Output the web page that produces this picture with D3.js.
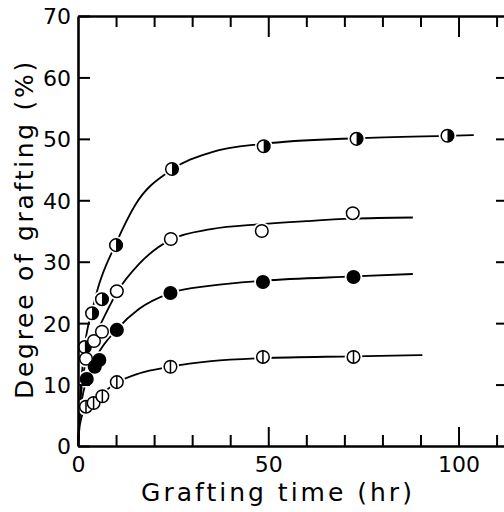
<!DOCTYPE html>
<html>
<head>
<meta charset="utf-8">
<script src="https://cdn.jsdelivr.net/npm/d3@7"></script>
<style>
  body { margin: 0; background: #fff; }
  svg { display: block; font-family: "DejaVu Sans", sans-serif; }
</style>
</head>
<body>
<script>
// Data
const xTicks = [0, 10, 20, 30, 40, 50, 60, 70, 80, 90, 100, 110]
const xLabels = [0, 50, 100]
const yTicks = [0, 10, 20, 30, 40, 50, 60, 70]

// half-filled circles
const halfX = [1.8, 3.7, 6.3, 10, 24.7, 48.8, 73.2, 97.1]
const halfY = [16.1, 21.6, 23.9, 32.7, 45.1, 48.8, 50.0, 50.5]
// open circles
const openX = [2.1, 4.2, 6.3, 10.2, 24.4, 48.3, 72.2]
const openY = [14.2, 17.1, 18.6, 25.2, 33.7, 35.0, 37.9]
// filled circles
const fillX = [2.3, 4.4, 5.6, 10.2, 24.3, 48.6, 72.4]
const fillY = [10.9, 12.9, 14.0, 18.9, 24.9, 26.7, 27.5]
// circles with a vertical bar
const barX = [2.1, 4.1, 6.4, 10.2, 24.3, 48.6, 72.4]
const barY = [6.4, 7.0, 8.1, 10.4, 12.9, 14.5, 14.5]

// fitted curves, as drawn in the figure
const halfCurveX = [0, 0.5, 1.8, 3.7, 5, 10, 15, 24.7, 35, 48.8, 73, 97, 104]
const halfCurveY = [0, 7, 16.3, 22, 25.2, 33, 39.2, 45, 47.8, 49.2, 50.1, 50.5, 50.6]
const openCurveX = [0, 0.5, 2.1, 4.2, 6.3, 10.2, 16, 24.4, 35, 48, 60, 72, 88]
const openCurveY = [0, 6, 14, 17.6, 20.3, 25, 29.6, 33.6, 35.3, 36.1, 36.6, 37.0, 37.2]
const fillCurveX = [0, 0.5, 2.3, 5, 10.2, 16, 24.3, 35, 48.6, 72.4, 88]
const fillCurveY = [0, 5, 10.9, 14.7, 19, 22.3, 24.9, 26.1, 26.9, 27.6, 28.0]
const barCurveX = [0, 0.5, 2.1, 4.1, 6.4, 10.2, 16, 24.3, 35, 48.6, 72.4, 90.5]
const barCurveY = [0, 3.5, 6.4, 7.5, 8.6, 10.3, 11.8, 12.9, 13.8, 14.3, 14.6, 14.8]

const W = 504, H = 512
const plot = { left: 78, right: 508, top: 16, bottom: 446 }
const r = 6.3

const svg = d3.select("body").append("svg")
  .attr("width", W)
  .attr("height", H)

const x = d3.scaleLinear().domain([0, 113]).range([plot.left, plot.right])
const y = d3.scaleLinear().domain([0, 70]).range([plot.bottom, plot.top])

const zip = (a, b) => a.map((v, i) => [v, b[i]])

// Curves
const line = d3.line()
  .x(d => x(d[0]))
  .y(d => y(d[1]))
  .curve(d3.curveMonotoneX)

const curves = [
  zip(halfCurveX, halfCurveY),
  zip(openCurveX, openCurveY),
  zip(fillCurveX, fillCurveY),
  zip(barCurveX, barCurveY)
]

svg.append("g")
  .selectAll("path")
  .data(curves)
  .enter()
  .append("path")
  .attr("d", line)
  .attr("fill", "none")
  .attr("stroke", "#000")
  .attr("stroke-width", 1.8)

// Markers
const allPts = [
  ...zip(halfX, halfY).map(p => ({ p, t: "half" })),
  ...zip(openX, openY).map(p => ({ p, t: "open" })),
  ...zip(fillX, fillY).map(p => ({ p, t: "fill" })),
  ...zip(barX, barY).map(p => ({ p, t: "bar" }))
]

// white halos break the lines around each marker
svg.append("g")
  .selectAll("circle")
  .data(allPts)
  .enter()
  .append("circle")
  .attr("cx", d => x(d.p[0]))
  .attr("cy", d => y(d.p[1]))
  .attr("r", r + 2.5)
  .attr("fill", "#fff")

const marks = svg.append("g")
  .selectAll("g")
  .data(allPts)
  .enter()
  .append("g")
  .attr("transform", d => `translate(${x(d.p[0])},${y(d.p[1])})`)

marks.append("circle")
  .attr("r", r)
  .attr("fill", d => d.t === "fill" ? "#000" : "#fff")
  .attr("stroke", "#000")
  .attr("stroke-width", 1.5)

marks.filter(d => d.t === "half")
  .append("path")
  .attr("d", `M0,${-r}A${r},${r} 0 0 1 0,${r}Z`)
  .attr("fill", "#000")

marks.filter(d => d.t === "bar")
  .append("line")
  .attr("y1", -r)
  .attr("y2", r)
  .attr("stroke", "#000")
  .attr("stroke-width", 1.5)

// Axes (ticks point inward)
const isMajor = v => v % 50 === 0

const xAxisB = svg.append("g")
  .attr("transform", `translate(0,${plot.bottom})`)
  .call(d3.axisBottom(x).tickValues(xTicks).tickSizeInner(-11).tickSizeOuter(0)
    .tickPadding(7).tickFormat(d => xLabels.includes(d) ? d : ""))
xAxisB.selectAll(".tick line").attr("y2", d => isMajor(d) && d > 0 ? -19 : -11)

const xAxisT = svg.append("g")
  .attr("transform", `translate(0,${plot.top})`)
  .call(d3.axisTop(x).tickValues(xTicks.filter(d => d > 0)).tickSizeInner(-11).tickSizeOuter(0)
    .tickFormat(""))
xAxisT.selectAll(".tick line").attr("y2", d => isMajor(d) ? 21 : 11)

const yAxisL = svg.append("g")
  .attr("transform", `translate(${plot.left},0)`)
  .call(d3.axisLeft(y).tickValues(yTicks).tickSizeInner(-12).tickSizeOuter(0).tickPadding(7))

const yAxisR = svg.append("g")
  .attr("transform", `translate(${plot.right},0)`)
  .call(d3.axisRight(y).tickValues(yTicks.filter(d => d > 0 && d < 70)).tickSizeInner(-12)
    .tickSizeOuter(0).tickFormat(""))

svg.selectAll(".domain").attr("stroke-width", 2.6)
svg.selectAll(".tick line").attr("stroke-width", 2)
svg.selectAll(".tick text")
  .attr("font-size", 22)
  .attr("font-family", "DejaVu Sans")
  .attr("fill", "#000")

xAxisB.selectAll(".tick text").attr("dy", "0.85em")
yAxisL.selectAll(".tick text").attr("dy", "0.36em")

// Axis titles
svg.append("text")
  .attr("x", 278)
  .attr("y", 501)
  .attr("text-anchor", "middle")
  .attr("font-size", 25)
  .attr("letter-spacing", 3)
  .text("Grafting time (hr)")

svg.append("text")
  .attr("transform", "translate(33,229) rotate(-90)")
  .attr("text-anchor", "middle")
  .attr("font-size", 25)
  .attr("letter-spacing", 2.7)
  .text("Degree of grafting (%)")
</script>
</body>
</html>
